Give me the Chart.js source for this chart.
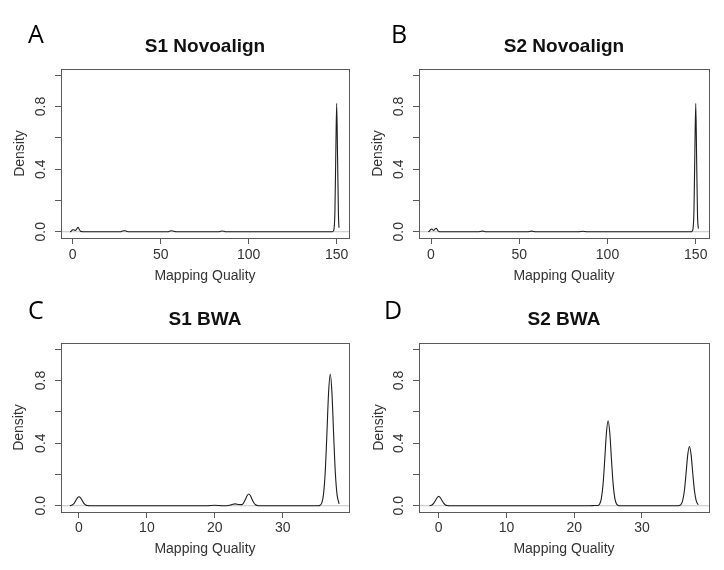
<!DOCTYPE html>
<html>
<head>
<meta charset="utf-8">
<script src="https://cdn.jsdelivr.net/npm/chart.js@4.4.1/dist/chart.umd.min.js"></script>
<style>
html,body{margin:0;padding:0;background:#fff;}
#wrap{position:relative;width:724px;height:570px;overflow:hidden;background:#fff;}
.panel{position:absolute;width:362px;height:285px;}
.panel canvas{display:block;}
.letter{position:absolute;font-family:"Open Sans",sans-serif;font-size:25px;line-height:25px;color:#000;}
</style>
</head>
<body>
<div id="wrap">
  <div class="panel" style="left:0;top:0"><canvas id="cA" width="362" height="285"></canvas></div>
  <div class="panel" style="left:362px;top:0"><canvas id="cB" width="362" height="285"></canvas></div>
  <div class="panel" style="left:0;top:285px"><canvas id="cC" width="362" height="285"></canvas></div>
  <div class="panel" style="left:362px;top:285px"><canvas id="cD" width="362" height="285"></canvas></div>
  <div class="letter" id="lA" style="left:28px;top:21px"></div>
  <div class="letter" id="lB" style="left:391px;top:21px"></div>
  <div class="letter" id="lC" style="left:28px;top:297px"></div>
  <div class="letter" id="lD" style="left:384px;top:297px"></div>
</div>
<script>
// ---------- text ----------
const panelLetters = ['A', 'B', 'C', 'D'];
const panelTitles = ['S1 Novoalign', 'S2 Novoalign', 'S1 BWA', 'S2 BWA'];
const xAxisTitle = 'Mapping Quality';
const yAxisTitle = 'Density';

// ---------- ticks ----------
const novoXTicks = [0, 50, 100, 150];
const bwaXTicks = [0, 10, 20, 30];
const yTickValues = [0, 0.2, 0.4, 0.6, 0.8, 1.0];
const yTickLabels = ['0.0', '', '0.4', '', '0.8', ''];

// ---------- density curves ----------
const s1NovoX = [-1.5, -1, -0.5, 0, 0.5, 1, 1.5, 2, 2.5, 3, 3.5, 4, 4.5, 5, 6,
  27, 28, 29, 30, 31, 32, 54, 55, 56, 57, 58, 59, 83, 84, 85, 86, 87,
  147.5, 148, 148.5, 149, 149.5, 150, 150.5, 151, 151.3];
const s1NovoY = [0, 0.002, 0.008, 0.012, 0.013, 0.011, 0.009, 0.012, 0.021, 0.028, 0.021, 0.009, 0.003, 0.001, 0,
  0, 0.003, 0.006, 0.006, 0.002, 0, 0, 0.003, 0.006, 0.005, 0.001, 0, 0, 0.003, 0.005, 0.003, 0,
  0, 0.003, 0.02, 0.13, 0.5, 0.82, 0.48, 0.11, 0.025];

const s2NovoX = [-1.5, -1, -0.5, 0, 0.5, 1, 1.5, 2, 2.5, 3, 3.5, 4, 4.5, 5, 6,
  27, 28, 29, 30, 31, 55, 56, 57, 58, 59, 84, 85, 86, 87, 88,
  147.5, 148, 148.5, 149, 149.5, 150, 150.5, 151, 151.5];
const s2NovoY = [0, 0.003, 0.01, 0.016, 0.017, 0.012, 0.009, 0.013, 0.02, 0.022, 0.015, 0.006, 0.002, 0, 0,
  0, 0.002, 0.004, 0.003, 0, 0, 0.002, 0.004, 0.002, 0, 0, 0.002, 0.003, 0.002, 0,
  0, 0.004, 0.025, 0.14, 0.52, 0.82, 0.46, 0.1, 0.02];

const s1BwaX = [-1.35, -1, -0.75, -0.5, -0.25, 0, 0.25, 0.5, 0.75, 1, 1.25, 1.6,
  19, 19.5, 20, 20.5, 21, 22, 22.5, 23, 23.5, 24, 24.25, 24.5, 24.75, 25, 25.25, 25.5, 25.75, 26, 26.25, 26.6,
  35.2, 35.5, 35.75, 36, 36.25, 36.5, 36.75, 37, 37.25, 37.5, 37.75, 38, 38.3];
const s1BwaY = [0, 0.005, 0.014, 0.031, 0.049, 0.057, 0.049, 0.031, 0.014, 0.005, 0.001, 0,
  0, 0.002, 0.003, 0.002, 0, 0.002, 0.007, 0.012, 0.008, 0.007, 0.019, 0.04, 0.064, 0.075, 0.064, 0.04, 0.019, 0.006, 0.002, 0,
  0, 0.003, 0.018, 0.071, 0.209, 0.453, 0.72, 0.84, 0.72, 0.453, 0.209, 0.071, 0.012];

const s2BwaX = [-1.35, -1, -0.75, -0.5, -0.25, 0, 0.25, 0.5, 0.75, 1, 1.25, 1.6,
  22.3, 23, 23.5, 23.75, 24, 24.25, 24.5, 24.75, 25, 25.25, 25.5, 25.75, 26, 26.25, 26.5, 26.8,
  35.3, 35.5, 35.75, 36, 36.25, 36.5, 36.75, 37, 37.25, 37.5, 37.75, 38, 38.3];
const s2BwaY = [0, 0.005, 0.015, 0.032, 0.051, 0.06, 0.051, 0.032, 0.015, 0.005, 0.001, 0,
  0, 0.002, 0.002, 0.011, 0.046, 0.135, 0.293, 0.465, 0.543, 0.465, 0.293, 0.135, 0.046, 0.011, 0.002, 0,
  0, 0.0015, 0.008, 0.032, 0.094, 0.204, 0.325, 0.379, 0.325, 0.204, 0.094, 0.032, 0.006];

// ---------- layout / styling ----------
const FONT = '"Liberation Sans", Arial, Helvetica, sans-serif';
Chart.defaults.font.family = FONT;
const TITLE_SIZE = 19;

const panels = [
  {id: 'cA', letter: 'lA', idx: 0, xs: s1NovoX, ys: s1NovoY, xTicks: novoXTicks, xMin: -6.65, xMax: 157.0,
   box: {l: 61, r: 349, t: 69, b: 238}, titleMid: 46.5, xTickPad: 3, xTitlePad: 0.7, yTitlePad: 11.6},
  {id: 'cB', letter: 'lB', idx: 1, xs: s2NovoX, ys: s2NovoY, xTicks: novoXTicks, xMin: -6.8, xMax: 157.5,
   box: {l: 57, r: 347, t: 69, b: 238}, titleMid: 46.5, xTickPad: 3, xTitlePad: 0.7, yTitlePad: 8.1},
  {id: 'cC', letter: 'lC', idx: 2, xs: s1BwaX, ys: s1BwaY, xTicks: bwaXTicks, xMin: -2.65, xMax: 39.76,
   box: {l: 61, r: 349, t: 58, b: 227}, titleMid: 35, xTickPad: 1.5, xTitlePad: 12.2, yTitlePad: 10.6},
  {id: 'cD', letter: 'lD', idx: 3, xs: s2BwaX, ys: s2BwaY, xTicks: bwaXTicks, xMin: -2.91, xMax: 39.89,
   box: {l: 57, r: 347, t: 58, b: 227}, titleMid: 35, xTickPad: 1.5, xTitlePad: 12.2, yTitlePad: 9.1}
];

const boxPlugin = {
  id: 'plotBox',
  afterDatasetsDraw(chart) {
    const a = chart.chartArea;
    const ctx = chart.ctx;
    const al = v => Math.round(v - 0.5) + 0.5;
    ctx.save();
    ctx.strokeStyle = '#5a5a5a';
    ctx.lineWidth = 1;
    ctx.strokeRect(al(a.left), al(a.top), al(a.right) - al(a.left), al(a.bottom) - al(a.top));
    ctx.restore();
  }
};

panels.forEach(p => {
  document.getElementById(p.letter).textContent = panelLetters[p.idx];
  const curve = p.xs.map((x, i) => ({x: x, y: p.ys[i]}));
  const zeroLine = [{x: p.xMin, y: 0}, {x: p.xMax, y: 0}];
  const titleLH = TITLE_SIZE * 1.2;
  const titleTop = p.titleMid - titleLH / 2;
  new Chart(document.getElementById(p.id), {
    type: 'line',
    data: {
      datasets: [
        {data: zeroLine, borderColor: '#c4c4c4', borderWidth: 1, pointRadius: 0, order: 2},
        {data: curve, borderColor: '#1e1e1e', borderWidth: 1.1, pointRadius: 0,
         cubicInterpolationMode: 'monotone', order: 1}
      ]
    },
    options: {
      responsive: false,
      animation: false,
      events: [],
      layout: {padding: {left: 0, right: 362 - p.box.r, top: 0, bottom: 0}},
      plugins: {
        legend: {display: false},
        tooltip: {enabled: false},
        title: {
          display: true,
          fullSize: false,
          text: panelTitles[p.idx],
          color: '#111',
          font: {family: FONT, size: TITLE_SIZE, weight: 'bold', lineHeight: 1.2},
          padding: {top: titleTop, bottom: p.box.t - titleTop - titleLH}
        }
      },
      scales: {
        x: {
          type: 'linear',
          min: p.xMin,
          max: p.xMax,
          afterBuildTicks: s => { s.ticks = p.xTicks.map(v => ({value: v})); },
          afterFit: s => { s.height = 285 - p.box.b; },
          ticks: {
            color: '#333', font: {size: 14}, padding: p.xTickPad, maxRotation: 0, minRotation: 0,
            autoSkip: false, callback: v => String(v)
          },
          grid: {display: true, drawOnChartArea: false, drawTicks: true, tickLength: 6, color: '#5a5a5a', lineWidth: 1},
          border: {display: false},
          title: {display: true, text: xAxisTitle, color: '#333', font: {size: 14}, padding: {top: 0, bottom: p.xTitlePad}}
        },
        y: {
          type: 'linear',
          min: -0.04,
          max: 1.04,
          afterBuildTicks: s => { s.ticks = yTickValues.map(v => ({value: v})); },
          afterFit: s => { s.width = p.box.l; },
          ticks: {
            color: '#333', font: {size: 14}, padding: 4.5, minRotation: 90, maxRotation: 90,
            crossAlign: 'center', autoSkip: false,
            callback: (v, i) => yTickLabels[yTickValues.indexOf(v)] ?? ''
          },
          grid: {display: true, drawOnChartArea: false, drawTicks: true, tickLength: 6, color: '#5a5a5a', lineWidth: 1},
          border: {display: false},
          title: {display: true, text: yAxisTitle, color: '#333', font: {size: 14}, padding: {top: p.yTitlePad, bottom: 0}}
        }
      }
    },
    plugins: [boxPlugin]
  });
});
</script>
</body>
</html>
